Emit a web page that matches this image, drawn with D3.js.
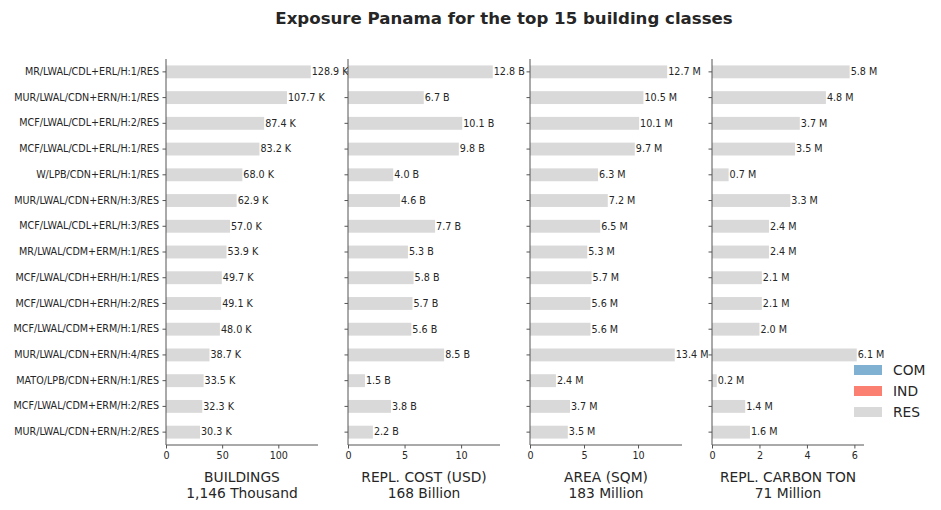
<!DOCTYPE html>
<html lang="en">
<head>
<meta charset="utf-8">
<title>Exposure Panama</title>
<style>
body { margin: 0; background: #fff; }
svg text { font-family: "DejaVu Sans", sans-serif; fill: #262626; }
.axis path, .axis line { stroke: #555; }
.axis text { font-size: 9.6px; fill: #262626; }
.bar { fill: #d9d9d9; }
.label { font-size: 9.6px; }
</style>
</head>
<body>
<div id="chartID"></div>
<script src="https://d3js.org/d3.v7.min.js"></script>
<script>
var categories = [
  "MR/LWAL/CDL+ERL/H:1/RES", "MUR/LWAL/CDN+ERN/H:1/RES", "MCF/LWAL/CDL+ERL/H:2/RES",
  "MCF/LWAL/CDL+ERL/H:1/RES", "W/LPB/CDN+ERL/H:1/RES", "MUR/LWAL/CDN+ERN/H:3/RES",
  "MCF/LWAL/CDL+ERL/H:3/RES", "MR/LWAL/CDM+ERM/H:1/RES", "MCF/LWAL/CDH+ERH/H:1/RES",
  "MCF/LWAL/CDH+ERH/H:2/RES", "MCF/LWAL/CDM+ERM/H:1/RES", "MUR/LWAL/CDN+ERN/H:4/RES",
  "MATO/LPB/CDN+ERN/H:1/RES", "MCF/LWAL/CDM+ERM/H:2/RES", "MUR/LWAL/CDN+ERN/H:2/RES"
];
var buildings = [128.9, 107.7, 87.4, 83.2, 68.0, 62.9, 57.0, 53.9, 49.7, 49.1, 48.0, 38.7, 33.5, 32.3, 30.3];
var replCost  = [12.8, 6.7, 10.1, 9.8, 4.0, 4.6, 7.7, 5.3, 5.8, 5.7, 5.6, 8.5, 1.5, 3.8, 2.2];
var area      = [12.7, 10.5, 10.1, 9.7, 6.3, 7.2, 6.5, 5.3, 5.7, 5.6, 5.6, 13.4, 2.4, 3.7, 3.5];
var carbon    = [5.8, 4.8, 3.7, 3.5, 0.7, 3.3, 2.4, 2.4, 2.1, 2.1, 2.0, 6.1, 0.2, 1.4, 1.6];

var panelNames = ["BUILDINGS", "REPL. COST (USD)", "AREA (SQM)", "REPL. CARBON TON"];
var panelTotals = ["1,146 Thousand", "168 Billion", "183 Million", "71 Million"];
var panelUnits = ["K", "B", "M", "M"];
var panelTicks = [[0, 50, 100], [0, 5, 10], [0, 5, 10], [0, 2, 4, 6]];
var panelValues = [buildings, replCost, area, carbon];

var legendNames = ["COM", "IND", "RES"];
var legendColors = ["#80b1d3", "#fb8072", "#d9d9d9"];

var svg = d3.select("#chartID").append("svg").attr("width", 941).attr("height", 510);

svg.append("text")
    .attr("x", 504).attr("y", 24)
    .attr("text-anchor", "middle")
    .style("font-size", "16.6px").style("font-weight", "bold")
    .text("Exposure Panama for the top 15 building classes");

var plotTop = 59, plotH = 386, panelW = 152;
var lefts = [166, 348, 530, 712];

var y = d3.scaleBand().domain(categories).range([0, plotH]).paddingInner(0.5).paddingOuter(0.25);

panelValues.forEach(function(vals, p) {
    var g = svg.append("g").attr("transform", "translate(" + lefts[p] + "," + plotTop + ")");
    var x = d3.scaleLinear().domain([0, d3.max(vals) * 1.05]).range([0, panelW]);

    g.selectAll(".bar")
        .data(vals)
        .enter()
        .append("rect")
        .attr("class", "bar")
        .attr("x", 0)
        .attr("y", function(d, i) { return y(categories[i]); })
        .attr("width", function(d) { return x(d); })
        .attr("height", y.bandwidth());

    var xa = g.append("g")
        .attr("class", "axis")
        .attr("transform", "translate(0," + plotH + ")")
        .call(d3.axisBottom(x).tickValues(panelTicks[p]).tickFormat(d3.format("d"))
            .tickSizeOuter(0).tickSize(3.5).tickPadding(3.5));

    var ya = g.append("g")
        .attr("class", "axis")
        .call(d3.axisLeft(y).tickSizeOuter(0).tickSize(3.5).tickPadding(3.5));
    if (p > 0) ya.selectAll("text").remove();
    ya.select(".domain").attr("d", "M0," + plotH + "V0");
    xa.select(".domain").attr("d", "M0,0H" + panelW);

    g.selectAll(".label")
        .data(vals)
        .enter()
        .append("text")
        .attr("class", "label")
        .attr("x", function(d) { return x(d) + 1; })
        .attr("y", function(d, i) { return y(categories[i]) + y.bandwidth() / 2; })
        .attr("dy", "0.35em")
        .text(function(d) { return d.toFixed(1) + " " + panelUnits[p]; });

    var lab = g.append("text")
        .attr("x", panelW / 2)
        .attr("y", plotH + 37)
        .attr("text-anchor", "middle")
        .style("font-size", "13.8px");
    lab.append("tspan").attr("x", panelW / 2).text(panelNames[p]);
    lab.append("tspan").attr("x", panelW / 2).attr("dy", "1.18em").text(panelTotals[p]);
});

var legend = svg.append("g").attr("transform", "translate(854,365)");
legendNames.forEach(function(name, i) {
    legend.append("rect")
        .attr("x", 0).attr("y", i * 21)
        .attr("width", 28).attr("height", 10)
        .attr("fill", legendColors[i]);
    legend.append("text")
        .attr("x", 39).attr("y", i * 21 + 5)
        .attr("dy", "0.35em")
        .style("font-size", "13.8px")
        .text(name);
});
</script>
</body>
</html>
